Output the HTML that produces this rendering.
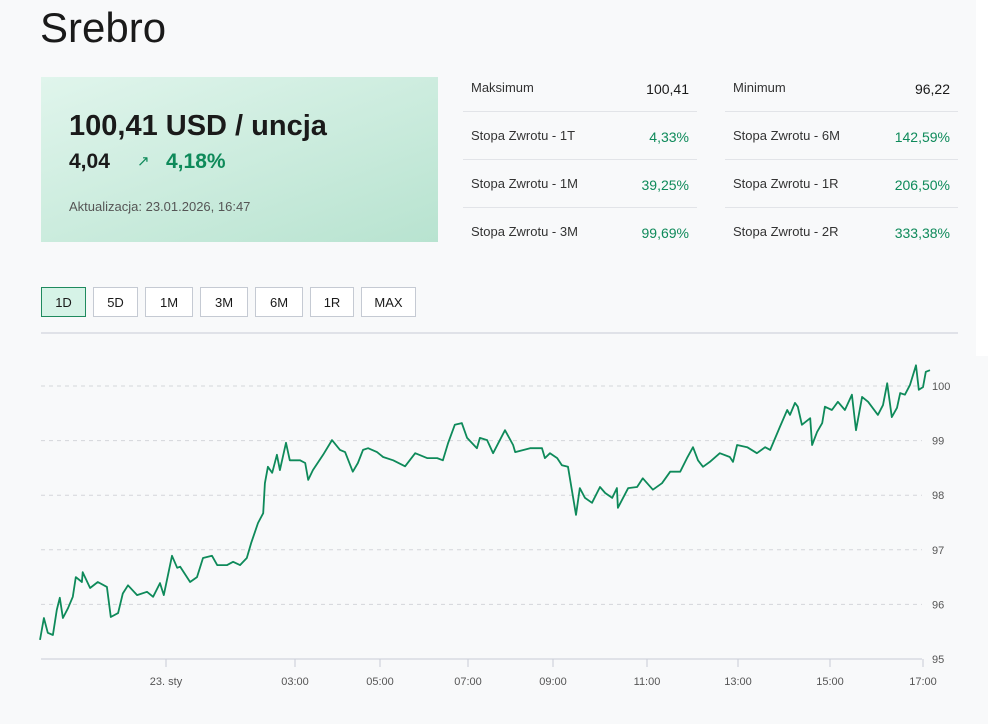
<!DOCTYPE html>
<html><head><meta charset="utf-8">
<style>
body{margin:0;width:988px;height:724px;background:#f8f9fa;font-family:"Liberation Sans",sans-serif;position:relative;overflow:hidden;color:#1a1a1a}
.abs{position:absolute}
h1{position:absolute;left:40px;top:4px;margin:0;font-weight:normal;font-size:42px;color:#1a1a1a}
.box{left:41px;top:77px;width:397px;height:165px;background:linear-gradient(160deg,#e0f5ec 0%,#b8e3d0 100%)}
.price{left:28px;top:33px;font-size:29px;font-weight:bold}
.chg{left:28px;top:73px;font-size:21px;font-weight:bold}
.pct{left:125px;top:73px;font-size:21px;font-weight:bold;color:#0e8a5a}
.arr{left:96px;top:75px;font-size:15px;color:#0e8a5a}
.upd{left:28px;top:122px;font-size:13px;color:#555}
.row{height:47px;border-bottom:1px solid #e2e4e8;font-size:13px;position:absolute}
.row .l{position:absolute;left:8px;top:4px;color:#333}
.row .v{position:absolute;right:8px;top:5px;font-size:14px}
.g{color:#0e8a5a}
.btn{top:287px;height:30px;border:1px solid #c5cad3;background:#fff;font-size:13px;text-align:center;line-height:30px;box-sizing:border-box}
</style></head><body>
<h1>Srebro</h1>
<div class="abs box">
<div class="abs price">100,41 USD / uncja</div>
<div class="abs chg">4,04</div>
<div class="abs arr">↗</div>
<div class="abs pct">4,18%</div>
<div class="abs upd">Aktualizacja: 23.01.2026, 16:47</div>
</div>
<div class="row" style="left:463px;top:64px;width:234px"><span class="l" style="top:16px">Maksimum</span><span class="v" style="top:17px">100,41</span></div>
<div class="row" style="left:463px;top:112px;width:234px"><span class="l" style="top:16px">Stopa Zwrotu - 1T</span><span class="v g" style="top:17px">4,33%</span></div>
<div class="row" style="left:463px;top:160px;width:234px"><span class="l" style="top:16px">Stopa Zwrotu - 1M</span><span class="v g" style="top:17px">39,25%</span></div>
<div class="row" style="left:463px;top:208px;width:234px;border:none"><span class="l" style="top:16px">Stopa Zwrotu - 3M</span><span class="v g" style="top:17px">99,69%</span></div>
<div class="row" style="left:725px;top:64px;width:233px"><span class="l" style="top:16px">Minimum</span><span class="v" style="top:17px">96,22</span></div>
<div class="row" style="left:725px;top:112px;width:233px"><span class="l" style="top:16px">Stopa Zwrotu - 6M</span><span class="v g" style="top:17px">142,59%</span></div>
<div class="row" style="left:725px;top:160px;width:233px"><span class="l" style="top:16px">Stopa Zwrotu - 1R</span><span class="v g" style="top:17px">206,50%</span></div>
<div class="row" style="left:725px;top:208px;width:233px;border:none"><span class="l" style="top:16px">Stopa Zwrotu - 2R</span><span class="v g" style="top:17px">333,38%</span></div>
<div class="abs btn" style="left:41px;width:45px;background:#d6f3e7;border-color:#1f8a5e">1D</div>
<div class="abs btn" style="left:93px;width:45px">5D</div>
<div class="abs btn" style="left:145px;width:48px">1M</div>
<div class="abs btn" style="left:200px;width:48px">3M</div>
<div class="abs btn" style="left:255px;width:48px">6M</div>
<div class="abs btn" style="left:310px;width:44px">1R</div>
<div class="abs btn" style="left:361px;width:55px">MAX</div>
<div class="abs" style="left:976px;top:0;width:12px;height:356px;background:#fff"></div>
<svg class="abs" style="left:0;top:0" width="988" height="724">
<line x1="41" y1="333" x2="958" y2="333" stroke="#c8ccd6" stroke-width="1"/>
<g id="grid"></g><g id="xax"></g><path id="line" fill="none" stroke="#0e8a5a" stroke-width="1.8" stroke-linejoin="round"/>
</svg>
<script>
const times=[-2.92,-2.83,-2.74,-2.62,-2.53,-2.46,-2.39,-2.27,-2.16,-2.09,-1.95,-1.93,-1.76,-1.58,-1.37,-1.28,-1.11,-1.0,-0.88,-0.67,-0.44,-0.30,-0.14,-0.05,
0.14,0.26,0.33,0.56,0.72,0.86,1.07,1.19,1.42,1.56,1.72,1.88,1.98,2.07,2.14,2.26,2.30,2.37,2.47,2.58,2.65,2.79,2.88,
3.12,3.24,3.31,3.42,3.66,3.87,4.06,4.18,4.36,4.48,4.60,4.72,4.93,
5.07,5.30,5.57,5.80,6.07,6.30,6.43,6.55,6.70,6.86,
6.98,7.21,7.28,7.45,7.59,7.87,8.06,8.11,8.46,8.74,8.81,8.93,
9.09,9.19,9.32,9.40,9.49,9.57,9.68,9.83,10.0,10.11,10.26,10.36,10.38,10.60,10.79,10.91,
11.13,11.33,11.51,11.73,11.88,12.01,12.12,12.23,12.38,12.60,12.82,12.89,12.98,
13.20,13.41,13.59,13.70,13.91,14.07,14.13,14.24,14.30,14.39,14.57,14.61,14.72,14.83,14.89,
15.04,15.17,15.32,15.47,15.56,15.69,15.82,16.03,16.14,16.23,16.33,16.44,16.51,16.61,16.72,16.85,16.91,17.0,17.06,17.15];
const prices=[95.35,95.75,95.48,95.44,95.9,96.12,95.75,95.93,96.14,96.5,96.41,96.59,96.3,96.41,96.32,95.77,95.84,96.2,96.35,96.17,96.23,96.14,96.39,96.17,
96.89,96.67,96.69,96.41,96.5,96.85,96.89,96.72,96.72,96.78,96.72,96.85,97.12,97.33,97.49,97.67,98.22,98.52,98.41,98.74,98.46,98.96,98.64,
98.64,98.59,98.28,98.46,98.74,99.01,98.83,98.79,98.43,98.59,98.83,98.86,98.79,
98.7,98.64,98.53,98.77,98.68,98.68,98.64,98.96,99.29,99.32,
99.05,98.86,99.05,99.01,98.77,99.19,98.92,98.79,98.86,98.86,98.68,98.77,
98.68,98.55,98.52,98.1,97.64,98.13,97.95,97.86,98.15,98.04,97.95,98.13,97.77,98.13,98.15,98.31,
98.1,98.22,98.43,98.43,98.68,98.88,98.64,98.52,98.61,98.77,98.7,98.61,98.92,
98.88,98.77,98.88,98.83,99.25,99.56,99.47,99.69,99.62,99.29,99.41,98.92,99.16,99.32,99.62,
99.56,99.71,99.56,99.84,99.19,99.8,99.71,99.47,99.65,100.05,99.43,99.6,99.87,99.84,100.02,100.38,99.93,99.98,100.26,100.29];
const yTicks=[95,96,97,98,99,100];
const xTickHours=[0,3,5,7,9,11,13,15,17];
const xTickLabels=["23. sty","03:00","05:00","07:00","09:00","11:00","13:00","15:00","17:00"];
// piecewise time axis (session gaps make spacing irregular)
const xDom=[-2.92,0,3,5,7,9,11,13,15,17,17.15];
const xRng=[40,166,295,380,468,553,647,738,830,923,930];
function x(t){for(let i=0;i<xDom.length-1;i++){if(t<=xDom[i+1]||i==xDom.length-2){const f=(t-xDom[i])/(xDom[i+1]-xDom[i]);return xRng[i]+f*(xRng[i+1]-xRng[i]);}}}
function y(v){return 659-(v-95)*54.6;}
const NS="http://www.w3.org/2000/svg";
const grid=document.getElementById('grid');
yTicks.forEach(v=>{
 const l=document.createElementNS(NS,'line');
 l.setAttribute('x1',41);l.setAttribute('x2',922);l.setAttribute('y1',y(v));l.setAttribute('y2',y(v));
 l.setAttribute('stroke',v==95?'#c8ccd6':'#d4d6da');l.setAttribute('stroke-dasharray',v==95?'none':'4,4');
 
 
 grid.appendChild(l);
 const t=document.createElementNS(NS,'text');
 t.setAttribute('x',932);t.setAttribute('y',y(v)+4);t.setAttribute('font-size','11');t.setAttribute('fill','#555');
 t.setAttribute('font-family','Liberation Sans, sans-serif');t.textContent=v;
 
 
 grid.appendChild(t);
});
const xax=document.getElementById('xax');
xTickHours.forEach((h,i)=>{
 const l=document.createElementNS(NS,'line');
 l.setAttribute('x1',x(h));l.setAttribute('x2',x(h));l.setAttribute('y1',659);l.setAttribute('y2',667);l.setAttribute('stroke','#c8ccd6');
 
 
 xax.appendChild(l);
 const t=document.createElementNS(NS,'text');
 t.setAttribute('x',x(h));t.setAttribute('y',685);t.setAttribute('font-size','11');t.setAttribute('fill','#555');t.setAttribute('text-anchor','middle');
 t.setAttribute('font-family','Liberation Sans, sans-serif');t.textContent=xTickLabels[i];
 
 
 xax.appendChild(t);
});
document.getElementById('line').setAttribute('d',times.map((t,i)=>(i?'L':'M')+x(t).toFixed(1)+','+y(prices[i]).toFixed(1)).join(''));
</script>
</body></html>
